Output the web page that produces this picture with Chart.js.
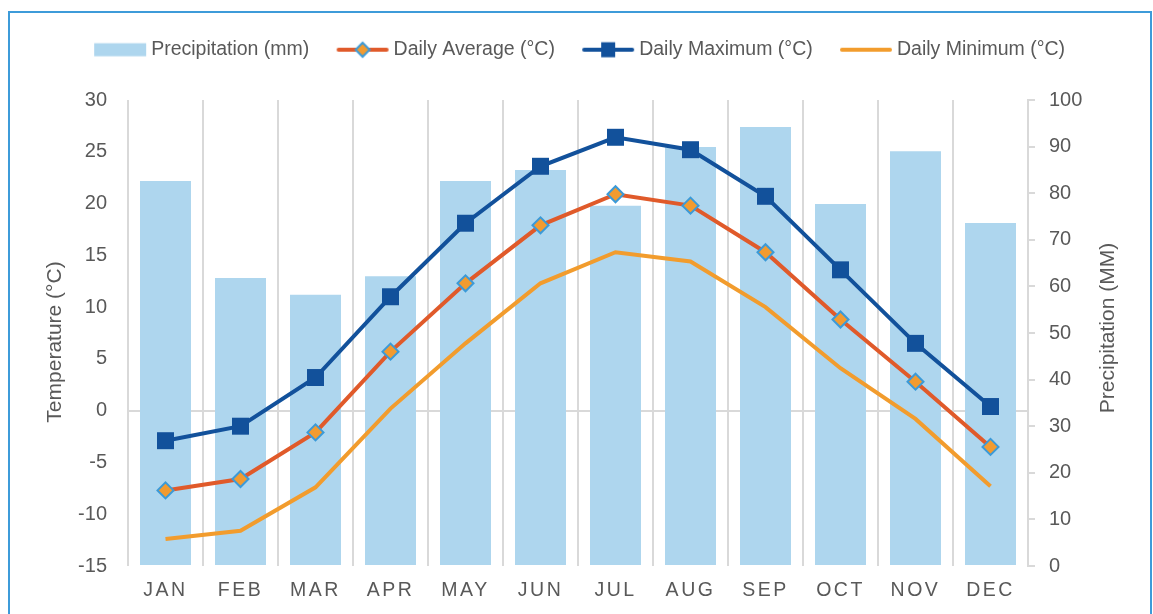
<!DOCTYPE html>
<html>
<head>
<meta charset="utf-8">
<script src="https://cdn.jsdelivr.net/npm/chart.js@4.4.1/dist/chart.umd.min.js"></script>
<style>
  html, body { margin: 0; padding: 0; background: #ffffff; overflow: hidden; }
  #wrap { position: relative; width: 1153px; height: 614px; }
  canvas { display: block; }
</style>
</head>
<body>
<div id="wrap"><canvas id="c" width="1153" height="614"></canvas></div>
<script>
const categories = ['JAN','FEB','MAR','APR','MAY','JUN','JUL','AUG','SEP','OCT','NOV','DEC'];
const precipitation = [82.6, 61.8, 58.2, 62.2, 82.6, 85.0, 77.3, 89.9, 94.2, 77.7, 89.0, 73.6];
const dailyAverage = [-7.7, -6.6, -2.1, 5.7, 12.3, 17.9, 20.9, 19.8, 15.3, 8.8, 2.8, -3.5];
const dailyMaximum = [-2.9, -1.5, 3.2, 11.0, 18.1, 23.6, 26.4, 25.2, 20.7, 13.6, 6.5, 0.4];
const dailyMinimum = [-12.4, -11.6, -7.4, 0.2, 6.5, 12.3, 15.3, 14.4, 10.0, 4.1, -0.8, -7.3];
const seriesNames = ['Precipitation (mm)', 'Daily Average (°C)', 'Daily Maximum (°C)', 'Daily Minimum (°C)'];
const tempTitle = 'Temperature (°C)';
const precTitle = 'Precipitation (MM)';

const COL_BAR = '#aed6ee';
const COL_AVG = '#e05a2a';
const COL_AVG_PT = '#f29b30';
const COL_AVG_PT_BORDER = '#3b9ad8';
const COL_MAX = '#12519b';
const COL_MIN = '#f29c2d';
const COL_GRID = '#d9d9d9';
const COL_TEXT = '#595959';
const REG = "'Liberation Sans', Arial, sans-serif";

function legendImg(kind) {
  const c = document.createElement('canvas');
  c.width = 54; c.height = 20;
  const g = c.getContext('2d');
  const cy = 10;
  if (kind === 'bar') {
    g.fillStyle = COL_BAR; g.fillRect(1, cy - 6.5, 52, 13);
  } else {
    const col = kind === 'avg' ? COL_AVG : kind === 'max' ? COL_MAX : COL_MIN;
    g.strokeStyle = col; g.lineWidth = 4; g.lineCap = 'round';
    g.beginPath(); g.moveTo(3, cy); g.lineTo(51, cy); g.stroke();
    if (kind === 'avg') {
      g.beginPath(); g.moveTo(27, cy - 7); g.lineTo(34, cy); g.lineTo(27, cy + 7); g.lineTo(20, cy); g.closePath();
      g.fillStyle = COL_AVG_PT; g.fill(); g.strokeStyle = COL_AVG_PT_BORDER; g.lineWidth = 2; g.stroke();
    } else if (kind === 'max') {
      g.fillStyle = COL_MAX; g.fillRect(20, cy - 7.5, 14, 15);
    }
  }
  return c;
}
const legendImgs = [legendImg('bar'), legendImg('avg'), legendImg('max'), legendImg('min')];

const decor = {
  id: 'decor',
  beforeLayout(chart) {
    const lg = chart.legend;
    if (lg && !lg._hWrapped) {
      const f = lg.fit;
      lg.fit = function () { f.call(this); this.height = 92; };
      lg._hWrapped = true;
    }
  },
  beforeDraw(chart) {
    const ctx = chart.ctx;
    ctx.save();
    ctx.fillStyle = '#ffffff';
    ctx.fillRect(0, 0, chart.width, chart.height);
    ctx.strokeStyle = '#3d9bd9';
    ctx.lineWidth = 2;
    ctx.strokeRect(9, 12, 1142, 700);
    ctx.restore();
    const xs = chart.scales.x;
    if (xs && !xs._lsWrapped) {
      const orig = xs.drawLabels;
      xs.drawLabels = function (area) {
        const c = this.ctx; c.save();
        try { c.letterSpacing = '2.5px'; } catch (e) {}
        orig.call(this, area); c.restore();
      };
      xs._lsWrapped = true;
    }
    const ys = chart.scales.y;
    if (ys && !ys._tWrapped) {
      const origT = ys.drawTitle;
      ys.drawTitle = function () {
        const c = this.ctx; c.save(); c.translate(0, 9);
        origT.call(this); c.restore();
      };
      ys._tWrapped = true;
    }
  },
  beforeDatasetsDraw(chart) {
    const ctx = chart.ctx, xs = chart.scales.x, ys = chart.scales.y;
    const y0 = ys.getPixelForValue(0);
    ctx.save();
    ctx.strokeStyle = COL_GRID; ctx.lineWidth = 2;
    categories.forEach((c, i) => {
      const x = xs.getPixelForValue(i);
      ctx.beginPath(); ctx.moveTo(x, y0); ctx.lineTo(x, y0 + 5); ctx.stroke();
    });
    ctx.restore();
  },
  afterDraw(chart) {
    const ctx = chart.ctx, ys = chart.scales.y1;
    ctx.save();
    ctx.fillStyle = COL_TEXT;
    ctx.font = '21px ' + REG;
    ctx.textAlign = 'center';
    ctx.textBaseline = 'middle';
    ctx.translate(1108, (ys.top + ys.bottom) / 2 - 5);
    ctx.rotate(-Math.PI / 2);
    ctx.fillText(precTitle, 0, 0);
    ctx.restore();
  }
};

new Chart(document.getElementById('c'), {
  type: 'bar',
  data: {
    labels: categories,
    datasets: [
      { type: 'bar', label: seriesNames[0], data: precipitation, yAxisID: 'y1', backgroundColor: COL_BAR,
        barPercentage: 0.68, categoryPercentage: 1.0, order: 10 },
      { type: 'line', label: seriesNames[1], data: dailyAverage, yAxisID: 'y', borderColor: COL_AVG, borderWidth: 4,
        pointStyle: 'rectRot', pointRadius: 8, pointBackgroundColor: COL_AVG_PT, pointBorderColor: COL_AVG_PT_BORDER,
        pointBorderWidth: 2, tension: 0, order: 2 },
      { type: 'line', label: seriesNames[2], data: dailyMaximum, yAxisID: 'y', borderColor: COL_MAX, borderWidth: 4,
        pointStyle: 'rect', pointRadius: 12, pointBackgroundColor: COL_MAX, pointBorderColor: COL_MAX,
        pointBorderWidth: 0, tension: 0, order: 1 },
      { type: 'line', label: seriesNames[3], data: dailyMinimum, yAxisID: 'y', borderColor: COL_MIN, borderWidth: 4,
        pointRadius: 0, tension: 0, order: 3 }
    ]
  },
  options: {
    responsive: false,
    animation: false,
    layout: { padding: { left: 11, top: 8, right: 0, bottom: 0 } },
    plugins: {
      tooltip: { enabled: false },
      legend: {
        position: 'top',
        labels: {
          usePointStyle: true,
          pointStyleWidth: 42.5,
          padding: 32,
          color: COL_TEXT,
          font: { family: REG, size: 19.5 },
          generateLabels: () => seriesNames.map((t, i) => ({
            text: t, pointStyle: legendImgs[i], fillStyle: 'transparent', strokeStyle: 'transparent',
            lineWidth: 0, hidden: false, datasetIndex: i, fontColor: COL_TEXT
          }))
        }
      }
    },
    scales: {
      x: {
        offset: true,
        grid: { offset: true, color: COL_GRID, lineWidth: 2, drawTicks: false },
        border: { display: false },
        ticks: { color: COL_TEXT, font: { family: REG, size: 19.5 }, padding: 13, maxRotation: 0 },
        afterFit: s => { s.height = 48; }
      },
      y: {
        position: 'left',
        min: -15, max: 30,
        ticks: { stepSize: 5, color: COL_TEXT, font: { family: REG, size: 20 }, padding: 21 },
        grid: { color: c => (c.tick && c.tick.value === 0) ? COL_GRID : 'rgba(0,0,0,0)', lineWidth: 2, drawTicks: false },
        border: { display: false },
        title: { display: true, text: tempTitle, color: COL_TEXT, font: { family: REG, size: 21 }, padding: { top: 32, bottom: 0 } },
        afterFit: s => { s.width = 117; }
      },
      y1: {
        position: 'right',
        min: 0, max: 100,
        ticks: { stepSize: 10, color: COL_TEXT, font: { family: REG, size: 20 }, padding: 14 },
        grid: { drawOnChartArea: false, drawTicks: true, tickLength: 7, color: COL_GRID, lineWidth: 2 },
        border: { display: true, color: COL_GRID, width: 2 },
        afterFit: s => { s.width = 125; }
      }
    }
  },
  plugins: [decor]
});
</script>
</body>
</html>
